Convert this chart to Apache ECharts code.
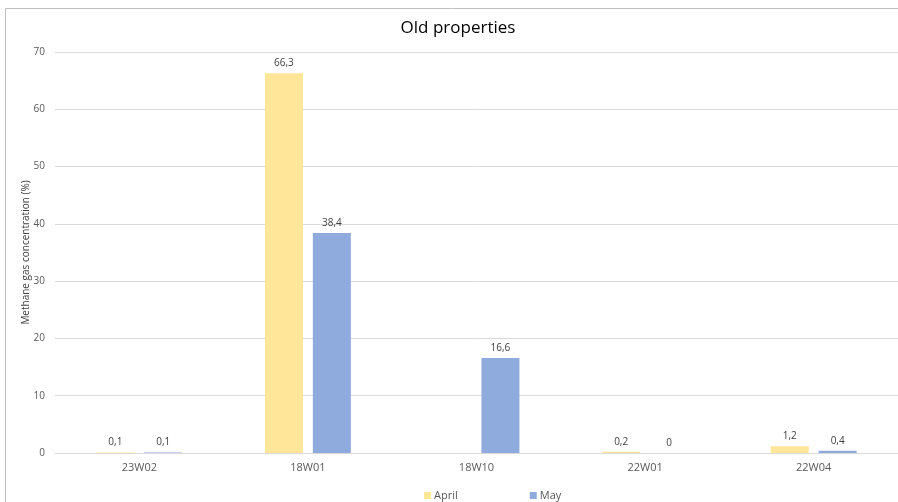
<!DOCTYPE html>
<html>
<head>
<meta charset="utf-8">
<script src="https://cdn.jsdelivr.net/npm/echarts@6/dist/echarts.min.js"></script>
<style>
  html, body { margin: 0; padding: 0; background: #fff; }
  #chart { width: 898px; height: 502px; }
</style>
</head>
<body>
<div id="chart"></div>
<script>
// Methane gas concentration per well, April vs May
const categories = ['23W02', '18W01', '18W10', '22W01', '22W04'];
const aprilValues = [0.1, 66.3, null, 0.2, 1.2];
const mayValues = [0.1, 38.4, 16.6, 0, 0.4];
const yTicks = [0, 10, 20, 30, 40, 50, 60, 70];

const FONT = '"Open Sans", "Liberation Sans", sans-serif';
const commaDecimal = p => (p.value == null ? '' : String(p.value).replace('.', ','));

const chart = echarts.init(document.getElementById('chart'), null, { renderer: 'canvas' });

chart.setOption({
  backgroundColor: '#ffffff',
  animation: false,
  title: {
    text: 'Old properties',
    left: 453,
    top: 15,
    textAlign: 'center',
    textStyle: { fontFamily: FONT, fontSize: 17, fontWeight: 'normal', color: '#000000' }
  },
  graphic: [{
    type: 'rect',
    shape: { x: 5.5, y: 8.5, width: 1200, height: 1200 },
    style: { fill: 'none', stroke: '#BFBFBF', lineWidth: 1 },
    silent: true,
    z: -1
  }],
  legend: {
    data: ['April', 'May'],
    left: 419,
    top: 485,
    itemWidth: 7,
    itemHeight: 7,
    itemGap: 72,
    icon: 'rect',
    textStyle: { fontFamily: FONT, fontSize: 11, color: '#595959', padding: [0, 0, 0, -2] }
  },
  grid: { left: 55, top: 52, width: 848, height: 401, containLabel: false },
  xAxis: {
    type: 'category',
    data: categories,
    axisLine: { lineStyle: { color: '#D9D9D9', width: 1 } },
    axisTick: { show: false },
    axisLabel: { fontFamily: FONT, fontSize: 11, color: '#595959', margin: 9 }
  },
  yAxis: {
    type: 'value',
    min: yTicks[0],
    max: yTicks[yTicks.length - 1],
    interval: 10,
    name: 'Methane gas concentration (%)',
    nameLocation: 'middle',
    nameGap: 24,
    nameMoveOverlap: false,
    nameTextStyle: { fontFamily: FONT, fontSize: 10, color: '#404040' },
    axisLine: { show: false },
    axisTick: { show: false },
    splitLine: { lineStyle: { color: '#D9D9D9', width: 1 } },
    axisLabel: { fontFamily: FONT, fontSize: 10, color: '#595959', margin: 10 }
  },
  series: [
    {
      name: 'April',
      type: 'bar',
      data: aprilValues,
      barWidth: 38,
      barGap: '26%',
      itemStyle: { color: '#FFE699' },
      label: { show: true, position: 'top', distance: 5, formatter: commaDecimal,
               fontFamily: FONT, fontSize: 10, color: '#404040' }
    },
    {
      name: 'May',
      type: 'bar',
      data: mayValues,
      barWidth: 38,
      itemStyle: { color: '#8FAADC' },
      label: { show: true, position: 'top', distance: 5, formatter: commaDecimal,
               fontFamily: FONT, fontSize: 10, color: '#404040' }
    }
  ]
});
</script>
</body>
</html>
